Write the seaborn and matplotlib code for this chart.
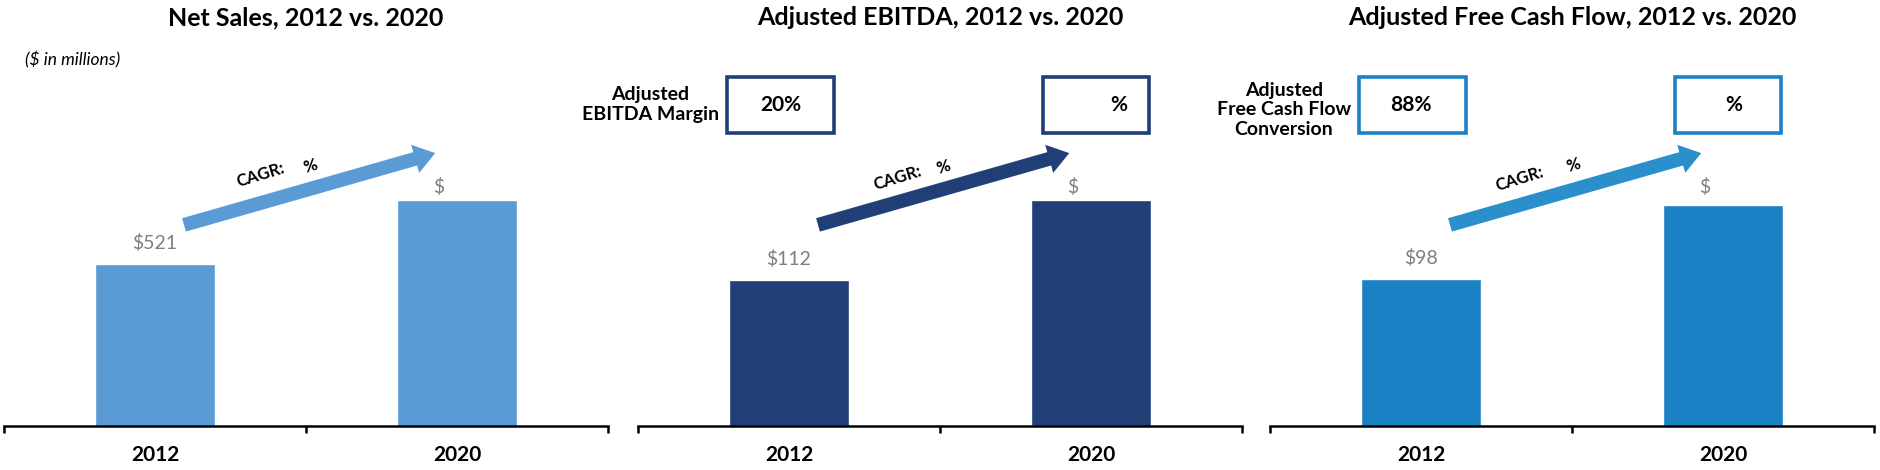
import matplotlib
matplotlib.use("Agg")
import matplotlib.pyplot as plt
import matplotlib.transforms as mtransforms
from matplotlib.patches import FancyArrowPatch, Rectangle, ArrowStyle
import seaborn as sns
import pandas as pd

# ---------------- data ----------------
years = ["2012", "2020"]
net_sales = [521, 727]
adj_ebitda = [112, 173]
adj_fcf = [98, 147]

net_sales_labels = ["$521", "$"]
adj_ebitda_labels = ["$112", "$"]
adj_fcf_labels = ["$98", "$"]

titles = ["Net Sales, 2012 vs. 2020",
          "Adjusted EBITDA, 2012 vs. 2020",
          "Adjusted Free Cash Flow, 2012 vs. 2020"]

ebitda_margin = ["20%", "%"]
fcf_conversion = ["88%", "%"]
box_titles = [None, "Adjusted\nEBITDA Margin", "Adjusted\nFree Cash Flow\nConversion"]

# ---------------- style ----------------
sns.set_theme(style="white")
plt.rcParams['font.family'] = ['Lato', 'DejaVu Sans']

bar_colors = ["#5B9BD5", "#1F3F76", "#1A82C4"]
arrow_colors = ["#5B9BD5", "#1F3F76", "#2A8FCB"]
grey = "#7F7F7F"

W, H = 1880, 470
fig = plt.figure(figsize=(W / 100, H / 100), dpi=100)

ax_top_px, ax_bot_px = 40, 426
ax_h = (ax_bot_px - ax_top_px) / H
ax_w = 604 / W
lefts_px = [4, 638, 1270]
ymax = [1241, 296, 257]

series = [net_sales, adj_ebitda, adj_fcf]
labels = [net_sales_labels, adj_ebitda_labels, adj_fcf_labels]
boxes = [None, ebitda_margin, fcf_conversion]

# layout (axes fractions)
cagr_pos = [(0.425, 0.650), (0.430, 0.642), (0.414, 0.640)]
pct_pos = [(0.508, 0.674), (0.505, 0.671), (0.502, 0.676)]
box_text_x = [None, (0.237, 0.796), (0.233, 0.768)]
box_title_pos = [None, (0.020, 0.832), (0.023, 0.819)]

for i in range(3):
    ax = fig.add_axes([lefts_px[i] / W, 1 - ax_bot_px / H, ax_w, ax_h])
    df = pd.DataFrame({"year": years, "value": series[i]})
    sns.barplot(data=df, x="year", y="value", color=bar_colors[i],
                saturation=1, width=0.4, ax=ax)
    ax.set_xlim(-0.5, 1.5)
    ax.set_ylim(0, ymax[i])
    ax.set_xlabel("")
    ax.set_ylabel("")
    ax.set_yticks([])
    for s in ["top", "left", "right"]:
        ax.spines[s].set_visible(False)
    ax.spines["bottom"].set_color("black")
    ax.spines["bottom"].set_linewidth(1.8)
    ax.set_xticks([0, 1])
    ax.set_xticklabels(years)
    ax.tick_params(axis="x", which="major", length=0, pad=14, labelsize=15)
    for lbl in ax.get_xticklabels():
        lbl.set_fontweight("bold")
        lbl.set_color("black")
    ax.set_xticks([-0.5, 0.5, 1.5], minor=True)
    ax.tick_params(axis="x", which="minor", length=5, width=1.8,
                   direction="out", color="black", bottom=True)
    ax.set_title(titles[i], fontsize=18, fontweight="bold", pad=10.5,
                 color="black")

    # value labels
    ax.annotate(labels[i][0], xy=(0, series[i][0]), xytext=(0, 15),
                textcoords="offset points", ha="center", va="center",
                color=grey, fontsize=14)
    bt = mtransforms.blended_transform_factory(ax.transData, ax.transAxes)
    ax.annotate(labels[i][1], xy=(1, 0.619), xycoords=bt, xytext=(-13, 0),
                textcoords="offset points", ha="center", va="center",
                color=grey, fontsize=14)

    # CAGR arrow
    arr = FancyArrowPatch(posA=(0.298, 0.521), posB=(0.714, 0.707),
                          transform=ax.transAxes,
                          arrowstyle=ArrowStyle.Simple(head_length=15,
                                                       head_width=21,
                                                       tail_width=10),
                          mutation_scale=1, color=arrow_colors[i],
                          shrinkA=0, shrinkB=0, clip_on=False, lw=0)
    ax.add_patch(arr)
    ax.text(*cagr_pos[i], "CAGR:", transform=ax.transAxes, rotation=17,
            ha="center", va="center", fontsize=12, fontweight="bold",
            color="black")
    ax.text(*pct_pos[i], "%", transform=ax.transAxes, rotation=17,
            ha="center", va="center", fontsize=12, fontweight="bold",
            color="black")

    # margin / conversion boxes
    if boxes[i] is not None:
        for j, (x0, x1) in enumerate([(0.148, 0.324), (0.671, 0.846)]):
            rect = Rectangle((x0, 0.759), x1 - x0, 0.145,
                             transform=ax.transAxes, facecolor="white",
                             edgecolor=bar_colors[i], lw=2.6, clip_on=False)
            ax.add_patch(rect)
            ax.text(box_text_x[i][j], 0.832, boxes[i][j],
                    transform=ax.transAxes, ha="center", va="center",
                    fontsize=15, fontweight="bold", color="black")
        ax.text(*box_title_pos[i], box_titles[i], transform=ax.transAxes,
                ha="center", va="center", fontsize=14, fontweight="bold",
                color="black", linespacing=1.2, multialignment="center")

fig.text(25 / W, 1 - 60 / H, "($ in millions)", ha="left", va="center",
         fontsize=12.5, fontstyle="italic", color="black")

fig.savefig("out.png", dpi=100, facecolor="white")
